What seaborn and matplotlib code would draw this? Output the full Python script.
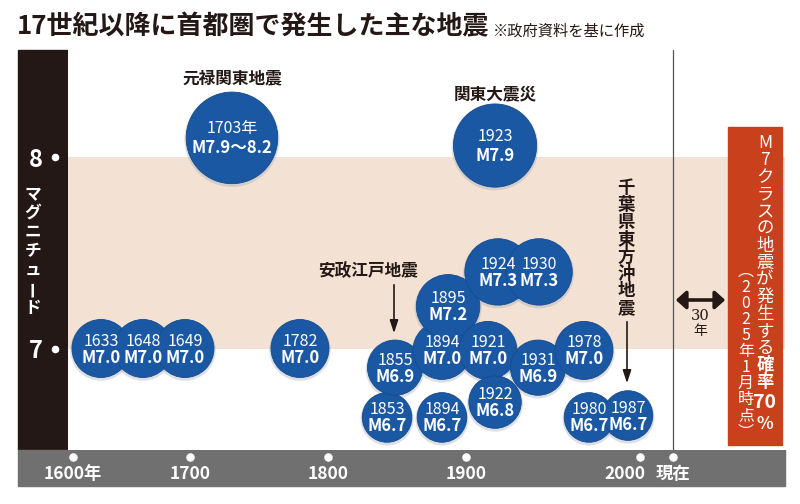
import numpy as np
import pandas as pd
import matplotlib
matplotlib.use("Agg")
import matplotlib.pyplot as plt
import matplotlib.transforms as mtransforms
from matplotlib.patches import Rectangle, FancyArrowPatch
import seaborn as sns

# ---------------- data ----------------
years = [1633, 1648, 1649, 1703, 1782, 1853, 1855, 1894, 1894, 1895,
         1921, 1922, 1923, 1924, 1930, 1931, 1978, 1980, 1987]
mag_low = [7.0, 7.0, 7.0, 7.9, 7.0, 6.7, 6.9, 7.0, 6.7, 7.2,
           7.0, 6.8, 7.9, 7.3, 7.3, 6.9, 7.0, 6.7, 6.7]
mag_high = [7.0, 7.0, 7.0, 8.2, 7.0, 6.7, 6.9, 7.0, 6.7, 7.2,
            7.0, 6.8, 7.9, 7.3, 7.3, 6.9, 7.0, 6.7, 6.7]
tick_years = [1600, 1700, 1800, 1900, 2000, 2025]
tick_labels = ["1600年", "1700", "1800", "1900", "2000", "現在"]
mag_ticks = [7, 8]
mag_tick_labels = ["7", "8"]

# ------------- layout (infographic placement of bubbles) -------------
x_pos = [1623.9, 1659.8, 1695.7, 1730.4, 1779.7, 1842.8, 1848.6, 1882.6, 1882.6, 1887.0,
         1912.6, 1916.7, 1916.7, 1918.4, 1942.0, 1941.4, 1967.8, 1970.7, 1993.1]
y_pos = [7.0, 7.0, 7.0, 8.10, 7.0, 6.64, 6.90, 6.99, 6.64, 7.22,
         6.99, 6.72, 8.06, 7.40, 7.40, 6.90, 6.99, 6.64, 6.65]
# non-uniform time axis of the original graphic (relative spacing)
scale_yr = [1500, 1600, 1700, 1800, 1900, 2000, 2025, 2200]
scale_u = [-44, 73, 190, 328, 466, 640, 673, 904]

BLUE = "#1b58a4"
BEIGE = "#f3e2d4"
DARK = "#231815"
GREY = "#707070"
RED = "#c8401c"

sns.set_theme(style="white")
plt.rcParams["font.family"] = ["Noto Sans CJK JP", "DejaVu Sans"]

W, H = 800, 504
fig = plt.figure(figsize=(8, 5.04), dpi=100)
fig.patch.set_facecolor("white")


def fx(px):
    return px / W


def fy(py):
    return 1 - py / H


ax = fig.add_axes([fx(68), fy(450), fx(785) - fx(68), fy(50) - fy(450)])
ax.set_xscale("function", functions=(lambda v: np.interp(v, scale_yr, scale_u),
                                     lambda v: np.interp(v, scale_u, scale_yr)))
ax.set_xlim(np.interp(68, scale_u, scale_yr), np.interp(785, scale_u, scale_yr))
ax.set_ylim(6.47, 8.559)
ax.set_facecolor("white")
for s in ax.spines.values():
    s.set_visible(False)

# beige band M7-M8
ax.axhspan(7, 8, color=BEIGE, zorder=0, lw=0)
# present line
ax.axvline(2025, color="#555555", lw=0.9, zorder=1)

df = pd.DataFrame({"x": x_pos, "y": y_pos, "year": years,
                   "lo": mag_low, "hi": mag_high})
diam_px = 58 + 28 * (df["hi"] - 7)
df["s"] = (diam_px * 0.72) ** 2

# soft shadow
ax.scatter(df["x"], df["y"] - 0.008, s=(diam_px * 0.72 + 2.5) ** 2, color="#9aa7b8",
           alpha=0.35, lw=0, zorder=2)
sns.scatterplot(data=df, x="x", y="y", s=df["s"].values, color=BLUE,
                edgecolor="#164a8c", linewidth=0.6, ax=ax, zorder=3, legend=False)

for _, r in df.iterrows():
    ylab = f"{int(r.year)}年" if r.lo != r.hi else f"{int(r.year)}"
    mlab = f"M{r.lo:.1f}〜{r.hi:.1f}" if r.lo != r.hi else f"M{r.lo:.1f}"
    big = r.hi > 7.6
    ax.annotate(ylab, (r.x, r.y), xytext=(0, 6.8 if big else 5.4), textcoords="offset points",
                ha="center", va="center", color="white", fontsize=11.5, zorder=4)
    ax.annotate(mlab, (r.x, r.y), xytext=(0, -7.6 if big else -6.5), textcoords="offset points",
                ha="center", va="center", color="white", fontsize=12, fontweight="bold",
                zorder=4)

ax.set_xlabel("")
ax.set_ylabel("")

# y ticks (magnitude) on the black bar
ax.set_yticks(mag_ticks)
ax.set_yticklabels(mag_tick_labels, color="white", fontsize=17, fontweight="bold")
ax.tick_params(axis="y", length=0, pad=18)
ax.set_xticks(tick_years)
ax.set_xticklabels(tick_labels, color="white", fontsize=12.5, fontweight="bold")
ax.tick_params(axis="x", length=0, pad=11)
ax.minorticks_off()
# the "2000" label sits left of its dot to make room for "現在"
lab2000 = ax.get_xticklabels()[4]
lab2000.set_transform(lab2000.get_transform() +
                      mtransforms.ScaledTranslation(-15 / 100, 0, fig.dpi_scale_trans))

ty = mtransforms.blended_transform_factory(ax.transAxes, ax.transData)
ax.scatter([-0.0181] * len(mag_ticks), mag_ticks, s=20, color="white", transform=ty,
           clip_on=False, zorder=5)
tx = mtransforms.blended_transform_factory(ax.transData, ax.transAxes)
ax.scatter(tick_years, [-0.0175] * len(tick_years), s=26, color="white", transform=tx,
           clip_on=False, zorder=5)

# background bars
fig.add_artist(Rectangle((fx(18), fy(450)), fx(68) - fx(18), fy(50) - fy(450),
                         transform=fig.transFigure, color=DARK, zorder=-1))
fig.add_artist(Rectangle((fx(18), fy(486)), fx(785) - fx(18), fy(450) - fy(486),
                         transform=fig.transFigure, color=GREY, zorder=-1))
# red probability box
fig.add_artist(Rectangle((fx(728), fy(445)), fx(782) - fx(728), fy(127) - fy(445),
                         transform=fig.transFigure, color=RED, zorder=5))

# title
fig.text(fx(17), fy(27), "17世紀以降に首都圏で発生した主な地震", fontsize=18.7,
         fontweight="bold", color=DARK, ha="left", va="center")
fig.text(fx(493), fy(31), "※政府資料を基に作成", fontsize=11, color=DARK,
         ha="left", va="center")


def vtext(x, y0, items, step, **kw):
    y = y0
    for it in items:
        if isinstance(it, tuple):
            ch, extra = it
        else:
            ch, extra = it, {}
        extra = dict(extra)
        y += extra.pop("gap", 0)
        rot = 90 if ch == "ー" else 0
        d = dict(kw)
        d.update(extra)
        fig.text(fx(x), fy(y), ch, ha="center", va="center", rotation=rot,
                 rotation_mode="anchor", **d)
        y += step


# y-axis title on the black bar
vtext(33, 194, list("マグニチュード"), 19, color="white", fontsize=12,
      fontweight="bold", zorder=6)

# named earthquakes
ax.annotate("元禄関東地震", (x_pos[3], y_pos[3]), xytext=(0, 43), textcoords="offset points",
            ha="center", va="center", fontsize=12, fontweight="bold", color=DARK)
ax.annotate("関東大震災", (x_pos[12], y_pos[12]), xytext=(0, 37), textcoords="offset points",
            ha="center", va="center", fontsize=12, fontweight="bold", color=DARK)
fig.text(fx(368), fy(271), "安政江戸地震", fontsize=12, fontweight="bold", color=DARK,
         ha="center", va="center")
fig.add_artist(FancyArrowPatch((fx(394), fy(282)), (fx(394), fy(336)),
                               transform=fig.transFigure,
                               arrowstyle="-|>,head_length=0.55,head_width=0.18",
                               mutation_scale=14, lw=1.2, color=DARK, zorder=6))
vtext(626, 188, list("千葉県東方沖地震"), 17.2, color=DARK, fontsize=12.5,
      fontweight="bold", zorder=6)
fig.add_artist(FancyArrowPatch((fx(627), fy(319)), (fx(627), fy(386)),
                               transform=fig.transFigure,
                               arrowstyle="-|>,head_length=0.55,head_width=0.18",
                               mutation_scale=14, lw=1.2, color=DARK, zorder=6))

# 30-year arrow
fig.add_artist(FancyArrowPatch((fx(673), fy(300)), (fx(728), fy(300)),
                               transform=fig.transFigure,
                               arrowstyle="<|-|>,head_length=0.5,head_width=0.45",
                               mutation_scale=12, lw=2.6, color=DARK, zorder=6))
fig.text(fx(700), fy(316), "30", fontsize=10.5, color=DARK, ha="center", va="center",
         family=["DejaVu Serif"])
fig.text(fx(700), fy(331), "年", fontsize=10, color=DARK, ha="center", va="center")

# red box text
right_col = ["M", "7", "ク", "ラ", "ス", "の", "地", "震", "が", "発", "生", "す", "る",
             ("確", {"fontweight": "bold"}), ("率", {"fontweight": "bold"}),
             ("70", {"fontweight": "bold", "fontsize": 14, "gap": 3}),
             ("%", {"fontweight": "bold", "gap": 4})]
vtext(765, 143, right_col, 17.1, color="white", fontsize=12.5, zorder=7)
left_col = ["︵", "2", "0", "2", "5", "年", "1", "月", "時", "点", "︶"]
vtext(746, 271, left_col, 16.1, color="white", fontsize=11.5, zorder=7)

fig.savefig("out.png", dpi=100, facecolor="white")
